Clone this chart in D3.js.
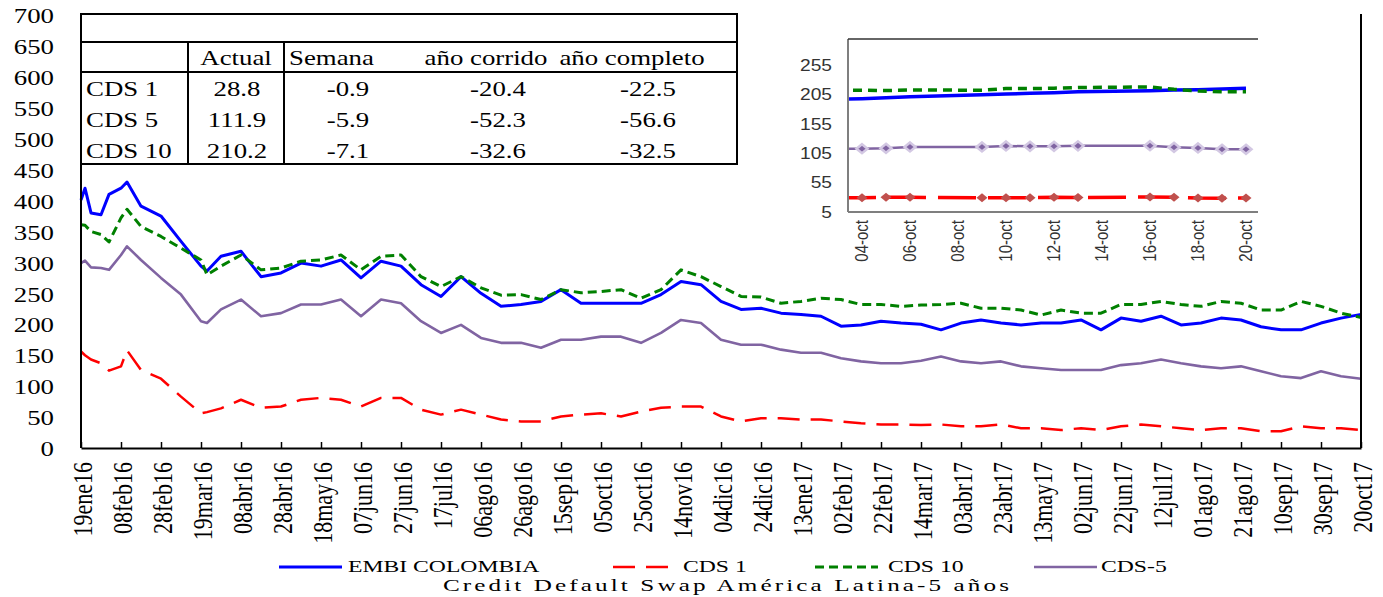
<!DOCTYPE html>
<html>
<head>
<meta charset="utf-8">
<script src="https://d3js.org/d3.v7.min.js"></script>
<style>
body {margin: 0; background: white;}
svg text {font-family: "Liberation Serif", "Times New Roman", serif; fill: black;}
.inset text {font-family: "Liberation Sans", Arial, sans-serif; fill: #333;}
</style>
</head>
<body>
<svg id="chart" width="1383" height="597"></svg>
<script>
// ---- main series (days since 19 Jan 2016) ----
var dayOffset = [0,2,5,10,14,20,23,30,40,50,60,63,70,80,90,100,110,120,130,140,150,160,170,180,190,200,210,220,230,240,250,260,270,280,290,300,310,320,330,340,350,360,370,380,390,400,410,420,430,440,450,460,470,480,490,500,510,520,530,540,550,560,570,580,590,600,610,620,630,640];
var embi  = [401,420,380,377,410,420,430,391,375,334,294,286,310,318,277,283,299,294,304,275,302,294,264,245,277,250,229,232,237,256,234,234,234,234,248,269,264,237,224,226,218,216,213,197,199,205,202,200,191,202,207,202,199,202,202,207,191,210,205,213,199,202,210,207,196,191,191,202,210,216];
var cds1  = [156,150,143,137,125,132,158,126,112,83,56,58,64,78,65,67,78,81,78,67,81,81,62,54,62,54,46,43,43,51,54,56,51,59,65,67,67,51,43,48,48,46,46,43,40,38,38,37,38,35,35,38,32,32,29,32,29,35,38,35,32,29,32,32,27,27,35,32,32,29];
var cds10 = [361,360,350,345,333,372,386,358,342,323,304,280,294,312,288,291,302,304,312,288,310,312,277,261,277,259,247,248,240,256,251,253,256,242,256,288,277,261,245,244,234,237,242,240,232,232,229,231,232,234,226,226,223,215,223,218,218,232,232,237,232,229,237,234,223,223,237,229,218,211];
var cds5  = [299,303,292,291,288,312,326,304,275,248,205,202,224,240,213,218,232,232,240,213,240,234,205,186,199,178,170,170,162,175,175,180,180,170,186,207,202,175,167,167,159,154,154,145,140,137,137,141,148,140,137,140,132,129,126,126,126,134,137,143,137,132,129,132,124,116,113,124,116,112];

var seriesNames = ["EMBI COLOMBIA", "CDS 1", "CDS 10", "CDS-5"];
var yTicks = [0,50,100,150,200,250,300,350,400,450,500,550,600,650,700];
var xTickLabels = ["19ene16","08feb16","28feb16","19mar16","08abr16","28abr16","18may16","07jun16","27jun16","17jul16","06ago16","26ago16","15sep16","05oct16","25oct16","14nov16","04dic16","24dic16","13ene17","02feb17","22feb17","14mar17","03abr17","23abr17","13may17","02jun17","22jun17","12jul17","01ago17","21ago17","10sep17","30sep17","20oct17"];

// ---- table ----
var tableHeaders = ["Actual", "Semana", "año corrido", "año completo"];
var tableRows = ["CDS 1", "CDS 5", "CDS 10"];
var colActual = [28.8, 111.9, 210.2];
var colSemana = [-0.9, -5.9, -7.1];
var colAnoCorrido = [-20.4, -52.3, -32.6];
var colAnoCompleto = [-22.5, -56.6, -32.5];

// ---- inset (October 2017) ----
var insetDates = ["2017-10-03","2017-10-04","2017-10-05","2017-10-06","2017-10-09","2017-10-10","2017-10-11","2017-10-12","2017-10-13","2017-10-16","2017-10-17","2017-10-18","2017-10-19","2017-10-20"];
var insetEmbi  = [197.5,198.3,200.0,201.7,205.1,206.2,207.4,208.5,210.2,211.9,213.0,213.6,214.7,215.9];
var insetCds10 = [212.6,212.6,212.0,213.2,212.6,215.5,215.5,216.1,217.3,218.2,214.2,211.3,210.2,210.2];
var insetCds5  = [113.0,113.0,113.6,115.9,115.9,117.6,117.0,117.0,117.8,118.1,115.3,114.2,112.0,111.9];
var insetCds1  = [29.5,29.5,30.2,30.0,29.2,29.4,29.3,30.0,29.7,30.5,30.3,28.9,28.6,28.8];
var insetYTicks = [5,55,105,155,205,255];
var insetTickLabels = ["04-oct","06-oct","08-oct","10-oct","12-oct","14-oct","16-oct","18-oct","20-oct"];

var svg = d3.select("#chart");
var SX = 1.22; // the picture's text is stretched sideways

var start = new Date(2016, 0, 19);
var dates = dayOffset.map(function(d) { return d3.timeDay.offset(start, d); });
var tickDates = xTickLabels.map(function(d, i) { return d3.timeDay.offset(start, i * 20); });

var x = d3.scaleTime().domain([start, d3.timeDay.offset(start, 640)]).range([81, 1361]);
var y = d3.scaleLinear().domain([0, 700]).range([448, 15]);

var series = [
  {name: seriesNames[0], values: embi, color: "#0000ff", width: 3, dash: null},
  {name: seriesNames[1], values: cds1, color: "#ff0000", width: 2.5, dash: "22,11"},
  {name: seriesNames[2], values: cds10, color: "#008000", width: 3, dash: "9,5"},
  {name: seriesNames[3], values: cds5, color: "#8064a2", width: 2.6, dash: null}
];

var line = d3.line()
  .x(function(d, i) { return x(dates[i]); })
  .y(function(d) { return y(d); });

svg.append("g").selectAll("path").data(series).enter().append("path")
  .attr("d", function(s) { return line(s.values); })
  .attr("fill", "none")
  .attr("stroke", function(s) { return s.color; })
  .attr("stroke-width", function(s) { return s.width; })
  .attr("stroke-dasharray", function(s) { return s.dash; })
  .attr("stroke-linejoin", "round");

// y axis
var yAxis = svg.append("g")
  .attr("transform", "translate(81,0)")
  .call(d3.axisLeft(y).tickValues(yTicks).tickSize(0).tickSizeOuter(0));
yAxis.select(".domain").attr("stroke", "black").attr("stroke-width", 2).attr("d", "M0,14V448");
yAxis.selectAll("text")
  .attr("x", 0).attr("dy", "0.35em")
  .style("font-size", "22px").attr("font-family", null)
  .attr("text-anchor", "end")
  .attr("transform", "translate(-27,0) scale(" + SX + ",1)");

// x axis
var xAxis = svg.append("g")
  .attr("transform", "translate(0,448)")
  .call(d3.axisBottom(x).tickValues(tickDates).tickSizeInner(-6).tickSizeOuter(0)
        .tickFormat(function(d, i) { return xTickLabels[i]; }));
xAxis.select(".domain").attr("stroke", "black").attr("stroke-width", 2);
xAxis.selectAll(".tick line").attr("stroke", "black").attr("stroke-width", 1.5);
xAxis.selectAll("text")
  .attr("x", 0).attr("y", 0).attr("dy", "0.35em")
  .style("font-size", "22px").attr("font-family", null)
  .attr("text-anchor", "end")
  .attr("transform", "translate(1,14) scale(" + SX + ",1) rotate(-90)");

// right border of plot area
svg.append("line").attr("x1", 1361).attr("x2", 1361).attr("y1", 14).attr("y2", 448)
  .attr("stroke", "black").attr("stroke-width", 2);

// ---- table ----
var tbl = svg.append("g");
tbl.append("rect").attr("x", 81).attr("y", 14).attr("width", 656).attr("height", 150)
  .attr("fill", "white").attr("stroke", "black").attr("stroke-width", 2);
[42, 72].forEach(function(yy) {
  tbl.append("line").attr("x1", 81).attr("x2", 737).attr("y1", yy).attr("y2", yy)
    .attr("stroke", "black").attr("stroke-width", 2);
});
[188, 284].forEach(function(xx) {
  tbl.append("line").attr("x1", xx).attr("x2", xx).attr("y1", 42).attr("y2", 164)
    .attr("stroke", "black").attr("stroke-width", 2);
});
var headerPos = [[236, "middle"], [289, "start"], [486, "middle"], [632, "middle"]];
tableHeaders.forEach(function(h, i) {
  tbl.append("text").text(h)
    .attr("text-anchor", headerPos[i][1]).style("font-size", "22px")
    .attr("transform", "translate(" + headerPos[i][0] + ",65) scale(" + SX + ",1)");
});
var rowBase = [96, 127, 158];
var cols = [colActual, colSemana, colAnoCorrido, colAnoCompleto];
var colCenter = [237, 348, 498, 648];
tableRows.forEach(function(r, i) {
  tbl.append("text").text(r).style("font-size", "22px")
    .attr("transform", "translate(86," + rowBase[i] + ") scale(" + SX + ",1)");
  cols.forEach(function(c, j) {
    tbl.append("text").text(c[i].toFixed(1))
      .attr("text-anchor", "middle").style("font-size", "22px")
      .attr("transform", "translate(" + colCenter[j] + "," + rowBase[i] + ") scale(" + SX + ",1)");
  });
});

// ---- inset ----
var inset = svg.append("g").attr("class", "inset");
var iDates = insetDates.map(function(s) { var p = s.split("-"); return new Date(+p[0], +p[1] - 1, +p[2]); });
var ix = d3.scaleTime().domain([new Date(2017, 9, 3, 10), new Date(2017, 9, 20, 12)]).range([848, 1258]);
var iy = d3.scaleLinear().domain([5, 300]).range([212, 39]);

inset.append("clipPath").attr("id", "insetClip")
  .append("rect").attr("x", 848).attr("y", 30).attr("width", 412).attr("height", 190);

var iline = d3.line()
  .x(function(d, i) { return ix(iDates[i]); })
  .y(function(d) { return iy(d); });

var insetSeries = [
  {values: insetEmbi, color: "#0000ff", width: 3.5, dash: null},
  {values: insetCds1, color: "#ff0000", width: 3.5, dash: "38,12", marker: "#c0504d"},
  {values: insetCds10, color: "#008000", width: 3.5, dash: "9,6"},
  {values: insetCds5, color: "#8064a2", width: 2.5, dash: null, marker: "#8064a2", halo: "#d3c8e3"}
];
var ig = inset.append("g").attr("clip-path", "url(#insetClip)");
insetSeries.forEach(function(s) {
  ig.append("path").attr("d", iline(s.values))
    .attr("fill", "none").attr("stroke", s.color).attr("stroke-width", s.width)
    .attr("stroke-dasharray", s.dash);
  if (s.marker) {
    ig.selectAll(null).data(s.values).enter().append("path")
      .attr("d", "M0,-4.5L5.5,0L0,4.5L-5.5,0Z")
      .attr("transform", function(d, i) { return "translate(" + ix(iDates[i]) + "," + iy(d) + ")"; })
      .attr("fill", s.marker)
      .attr("stroke", s.halo || "none").attr("stroke-width", 2.5);
  }
});

inset.append("line").attr("x1", 848).attr("x2", 848).attr("y1", 39).attr("y2", 212)
  .attr("stroke", "#7f7f7f").attr("stroke-width", 2);
inset.append("line").attr("x1", 848).attr("x2", 1258).attr("y1", 39).attr("y2", 39)
  .attr("stroke", "#333").attr("stroke-width", 1.5);
inset.append("line").attr("x1", 848).attr("x2", 1258).attr("y1", 212).attr("y2", 212)
  .attr("stroke", "#7f7f7f").attr("stroke-width", 2);

inset.selectAll(null).data(insetYTicks).enter().append("text")
  .text(function(d) { return d; })
  .attr("text-anchor", "end").attr("dy", "0.35em").style("font-size", "16px")
  .attr("transform", function(d) { return "translate(832," + iy(d) + ") scale(1.2,1)"; });

inset.selectAll(null).data(insetTickLabels).enter().append("text")
  .text(function(d) { return d; })
  .attr("text-anchor", "end").attr("dy", "0.35em").style("font-size", "15px")
  .attr("transform", function(d, i) {
    return "translate(" + ix(d3.timeDay.offset(new Date(2017, 9, 4), i * 2)) + ",220) scale(1.2,1) rotate(-90)";
  });

// ---- legend ----
var LX = 1.48;
var legendLineX = [279, 613, 815, 1034];
var legendTextX = [348, 683, 888, 1101];
var lg = svg.append("g");
series.forEach(function(s, i) {
  lg.append("line").attr("x1", legendLineX[i]).attr("x2", legendLineX[i] + 63)
    .attr("y1", 567).attr("y2", 567)
    .attr("stroke", s.color).attr("stroke-width", s.width)
    .attr("stroke-dasharray", s.dash);
  lg.append("text").text(s.name).style("font-size", "16px")
    .attr("transform", "translate(" + legendTextX[i] + ",572) scale(" + LX + ",1)");
});
lg.append("text").text("Credit Default Swap América Latina-5 años")
  .style("font-size", "17px")
  .attr("textLength", 566 / LX).attr("lengthAdjust", "spacing")
  .attr("transform", "translate(443,591) scale(" + LX + ",1)");
</script>
</body>
</html>
